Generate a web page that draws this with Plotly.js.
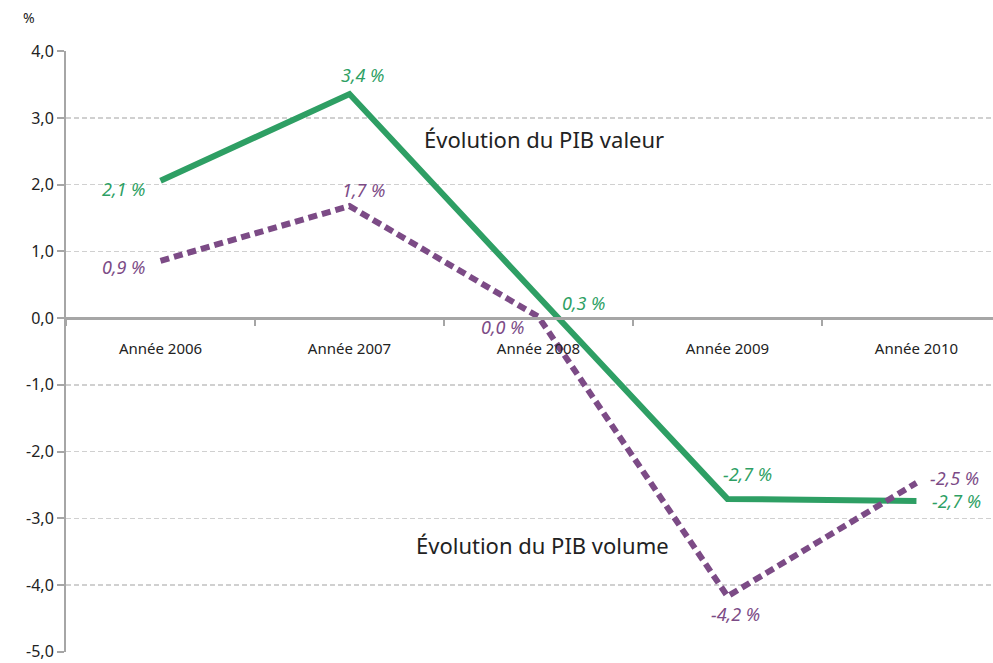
<!DOCTYPE html>
<html>
<head>
<meta charset="utf-8">
<script src="https://cdn.plot.ly/plotly-3.0.1.min.js"></script>
<style>html,body{margin:0;padding:0;background:#fff;}#chart{width:993px;height:663px;}</style>
</head>
<body>
<div id="chart"></div>
<script>
const categories = ['Année 2006', 'Année 2007', 'Année 2008', 'Année 2009', 'Année 2010'];
const pibValeur = [2.06, 3.36, 0.32, -2.71, -2.74];
const pibVolume = [0.86, 1.68, 0.02, -4.17, -2.47];
const yTicks = [4, 3, 2, 1, 0, -1, -2, -3, -4, -5];

const FONT = '"Noto Sans", "Open Sans", sans-serif';
const GREEN = '#2e9f64';
const PURPLE = '#7c4b86';

const fmt = v => v.toFixed(1).replace('.', ',');

// label offsets (pixels) for the data labels
const valeurShift = [[-37, -8], [14, 19], [46, -6], [20, 25], [40, 0]];
const volumeShift = [[-37, -6], [15, 16], [-35, -10], [8, -18], [38, 5]];

const traces = [
  {
    x: categories, y: pibValeur, type: 'scatter', mode: 'lines',
    name: 'Évolution du PIB valeur',
    line: {color: GREEN, width: 6},
    hoverinfo: 'skip'
  },
  {
    x: categories, y: pibVolume, type: 'scatter', mode: 'lines',
    name: 'Évolution du PIB volume',
    line: {color: PURPLE, width: 6, dash: '9px,5px'},
    hoverinfo: 'skip'
  }
];

const dataLabels = [];
categories.forEach((c, i) => {
  dataLabels.push({x: c, y: pibValeur[i], xref: 'x', yref: 'y', text: fmt(pibValeur[i]) + ' %',
    showarrow: false, xshift: valeurShift[i][0], yshift: valeurShift[i][1],
    font: {family: FONT, size: 18, color: GREEN, style: 'italic'}});
  dataLabels.push({x: c, y: pibVolume[i], xref: 'x', yref: 'y', text: fmt(pibVolume[i]) + ' %',
    showarrow: false, xshift: volumeShift[i][0], yshift: volumeShift[i][1],
    font: {family: FONT, size: 18, color: PURPLE, style: 'italic'}});
});

const layout = {
  width: 993, height: 663,
  margin: {l: 66, r: 0, t: 51, b: 11},
  paper_bgcolor: '#fff', plot_bgcolor: '#fff',
  showlegend: false,
  font: {family: FONT, color: '#222'},
  xaxis: {
    type: 'category',
    range: [-0.5, 4.405],
    anchor: 'free', position: 5.005/9.01,
    showline: true, linecolor: '#a6a6a6', linewidth: 3,
    ticks: 'outside', tickson: 'boundaries', ticklen: 6, tickcolor: '#a6a6a6', tickwidth: 1.5,
    ticklabelstandoff: 16,
    showgrid: false, zeroline: false,
    tickfont: {family: FONT, size: 15, color: '#222'}
  },
  yaxis: {
    range: [-5.005, 4.005],
    tickvals: yTicks, ticktext: yTicks.map(fmt),
    ticklabeloverflow: 'allow',
    showline: true, linecolor: '#a6a6a6', linewidth: 2,
    ticks: 'outside', ticklen: 7, tickcolor: '#a6a6a6', tickwidth: 2,
    showgrid: true, gridcolor: '#d0d0d0', gridwidth: 1.5, griddash: '5px,3px',
    zeroline: false,
    tickfont: {family: FONT, size: 16, color: '#222'}
  },
  annotations: [
    {text: '%', xref: 'paper', yref: 'paper', x: -0.04, y: 1.055, xanchor: 'center', yanchor: 'middle',
     showarrow: false, font: {family: FONT, size: 14, color: '#222'}},
    {text: 'Évolution du PIB valeur', xref: 'x', yref: 'y', x: 2.03, y: 2.68, xanchor: 'center', yanchor: 'middle',
     showarrow: false, font: {family: FONT, size: 22, color: '#222'}},
    {text: 'Évolution du PIB volume', xref: 'x', yref: 'y', x: 2.02, y: -3.4, xanchor: 'center', yanchor: 'middle',
     showarrow: false, font: {family: FONT, size: 22, color: '#222'}}
  ].concat(dataLabels)
};

Plotly.newPlot('chart', traces, layout, {displayModeBar: false, staticPlot: true});
</script>
</body>
</html>
